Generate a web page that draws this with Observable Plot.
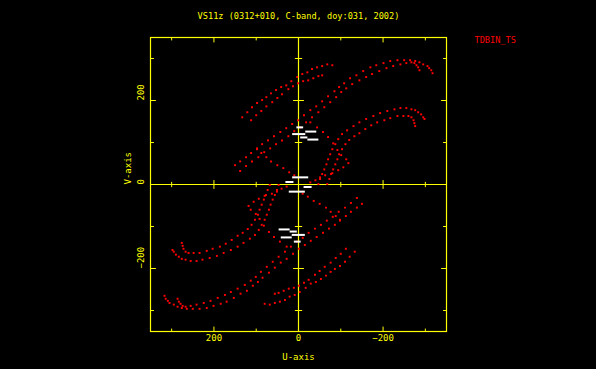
<!DOCTYPE html>
<html><head><meta charset="utf-8">
<script src="https://cdn.jsdelivr.net/npm/d3@7"></script>
<script src="https://cdn.jsdelivr.net/npm/@observablehq/plot@0.6"></script>
<style>html,body{margin:0;padding:0;background:#000;overflow:hidden;}</style>
</head><body><div id="chart"></div>
<script>
// ---- texts ----
const title = "VS11z (0312+010, C-band, doy:031, 2002)";
const fileLabel = "TDBIN_TS";
const xLabel = "U-axis";
const yLabel = "V-axis";
const majorTicks = [-200, 0, 200];
const minorTicks = [-300, -100, 100, 300];
const tickLabels = ["−200", "0", "200"];

// ---- uv tracks (one half; conjugate points (-u,-v) are added below) ----
const trackA1U = [150,138,124,112,98,86,72,58,43,29,15,1,-13,-28,-42,-56,-70,-85,-96,-108,-122,-137,-153,-170,-184,-201,-217,-234,-250,-264,-276,-286,-295,-305,-309,-314,-317];
const trackA1V = [46,55,65,75,86,96,105,115,125,134,144,153,165,177,186,198,210,222,232,241,253,260,270,279,284,289,294,296,296,296,294,291,286,282,277,272,265];
const trackA2U = [138,124,110,95,81,67,53,39,24,10,-4,-18,-32,-47,-61,-75,-89,-101,-113,-127,-144,-160,-174,-191,-208,-224,-241,-255,-267,-274,-279,-283,-286];
const trackA2V = [32,44,55,65,77,86,96,105,115,127,136,148,160,172,184,196,208,220,229,239,248,256,263,270,277,282,286,289,291,289,284,279,272];
const trackB1U = [-47,-51,-56,-61,-66,-70,-75,-80,-87,-94,-103,-115,-130,-144,-160,-177,-193,-210,-227,-241,-255,-267,-276,-283,-290,-295,-298];
const trackB1V = [1,13,25,36,48,60,72,84,96,108,120,129,139,148,156,163,170,175,179,182,182,179,177,172,167,160,156];
const trackB2U = [-68,-73,-77,-82,-87,-92,-96,-103,-111,-120,-132,-144,-158,-172,-186,-203,-217,-234,-248,-260,-267,-272,-274,-276];
const trackB2V = [1,13,25,36,48,60,72,84,96,106,115,122,132,141,148,153,158,163,163,163,160,153,146,139];
const trackC1U = [133,121,110,98,86,76,65,53,41,29,17,3,-9,-21,-32,-44,-56,-68,-80];
const trackC1V = [160,172,184,194,201,208,217,225,232,236,246,256,263,267,275,279,282,286,284];
const trackC2U = [112,100,88,76,62,50,39,24,13,1,-11,-23,-35,-47,-56];
const trackC2V = [153,165,175,186,196,206,215,227,234,241,246,248,253,258,260];
const trackDU = [-28,-44,-58,-70,-82,-92,-101,-113,-118,-106,-94,-80,-63,-51,-40,-28];
const trackDV = [148,136,125,113,98,82,70,60,51,41,34,27,22,17,10,5];
const trackEU = [10,22,36,50,65,76,88,98];
const trackEV = [22,29,39,46,55,65,75,84];

// short baselines drawn as white bars (u from, u to, v)
const barU1 = [5,-16,15,-4,-21,15,31];
const barU2 = [-11,-42,-16,-21,-47,-23,12];
const barV  = [136,126,120,112,107,17,6];

// ---- build tables ----
const tracks = [[trackA1U,trackA1V],[trackA2U,trackA2V],[trackB1U,trackB1V],[trackB2U,trackB2V],
                [trackC1U,trackC1V],[trackC2U,trackC2V],[trackDU,trackDV],[trackEU,trackEV]];
const points = [];
for (const [us, vs] of tracks) {
  us.forEach((u, i) => {
    points.push({u, v: vs[i]});
    points.push({u: -u, v: -vs[i]}); // conjugate visibility
  });
}
const bars = [];
barV.forEach((v, i) => {
  bars.push({u1: barU1[i], u2: barU2[i], v});
  bars.push({u1: -barU1[i], u2: -barU2[i], v: -v});
});

const yellow = "#ffff00", red = "#ff0000";
const mono = "DejaVu Sans Mono";
const lineShape = {draw(ctx, l) { ctx.moveTo(0, 0); ctx.lineTo(0, -l); }};
const vec = (data, o) => Plot.vector(data, {shape: lineShape, stroke: yellow, strokeWidth: 1, anchor: "start", ...o});
const crossTicks = majorTicks.filter(d => d !== 0);

const chart = Plot.plot({
  width: 596, height: 369,
  marginLeft: 150, marginRight: 150, marginTop: 37, marginBottom: 38,
  style: {background: "#000", fontFamily: mono},
  x: {domain: [350, -350], axis: null},
  y: {domain: [-350, 350], axis: null},
  marks: [
    Plot.frame({stroke: yellow, strokeWidth: 1.2}),
    Plot.ruleX([0], {stroke: yellow, strokeWidth: 1.2}),
    Plot.ruleY([0], {stroke: yellow, strokeWidth: 1.2}),
    // frame ticks (inward)
    vec(majorTicks, {x: d => d, frameAnchor: "bottom", length: 4.5, rotate: 0}),
    vec(minorTicks, {x: d => d, frameAnchor: "bottom", length: 2.5, rotate: 0}),
    vec(majorTicks, {x: d => d, frameAnchor: "top", length: 4.5, rotate: 180}),
    vec(minorTicks, {x: d => d, frameAnchor: "top", length: 2.5, rotate: 180}),
    vec(majorTicks, {y: d => d, frameAnchor: "left", length: 5, rotate: 90}),
    vec(minorTicks, {y: d => d, frameAnchor: "left", length: 3, rotate: 90}),
    vec(majorTicks, {y: d => d, frameAnchor: "right", length: 5, rotate: -90}),
    vec(minorTicks, {y: d => d, frameAnchor: "right", length: 3, rotate: -90}),
    // ticks on the zero lines
    vec(crossTicks, {x: d => d, y: () => 0, anchor: "middle", length: 8, rotate: 0}),
    vec(minorTicks, {x: d => d, y: () => 0, anchor: "middle", length: 4.5, rotate: 0}),
    vec(crossTicks, {x: () => 0, y: d => d, anchor: "middle", length: 10, rotate: 90}),
    vec(minorTicks, {x: () => 0, y: d => d, anchor: "middle", length: 6.5, rotate: 90}),
    // data
    Plot.dot(points, {x: "u", y: "v", r: 1.1, symbol: "square", fill: red}),
    Plot.link(bars, {x1: "u1", x2: "u2", y1: "v", y2: "v", stroke: "#ffffff", strokeWidth: 2}),
    // texts
    Plot.text([title], {text: d => d, frameAnchor: "top", dy: -25, fill: yellow, fontSize: 8.6, fontFamily: mono}),
    Plot.text([fileLabel], {text: d => d, frameAnchor: "top-right", dx: 28, dy: -1, textAnchor: "start", fill: red, fontSize: 8.6, fontFamily: mono}),
    Plot.text([xLabel], {text: d => d, frameAnchor: "bottom", dy: 28, fill: yellow, fontSize: 9, fontFamily: mono}),
    Plot.text([yLabel], {text: d => d, frameAnchor: "left", dx: -22, rotate: -90, fill: yellow, fontSize: 9, fontFamily: mono}),
    Plot.text(majorTicks, {x: d => d, text: (d, i) => tickLabels[i], frameAnchor: "bottom", dy: 9, fill: yellow, fontSize: 9, fontFamily: mono}),
    Plot.text(majorTicks, {y: d => d, text: (d, i) => tickLabels[i], frameAnchor: "left", dx: -9, rotate: -90, fill: yellow, fontSize: 9, fontFamily: mono})
  ]
});
document.getElementById("chart").appendChild(chart);
</script>
</body></html>
